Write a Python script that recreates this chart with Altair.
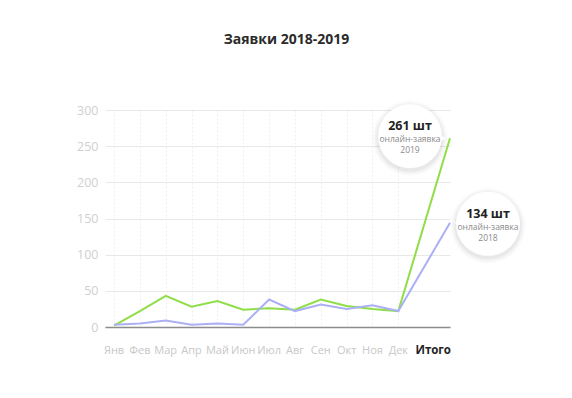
import altair as alt
import pandas as pd

months = ["Янв", "Фев", "Мар", "Апр", "Май", "Июн", "Июл", "Авг", "Сен", "Окт", "Ноя", "Дек", "Итого"]
xpos = [0, 1, 2, 3, 4, 5, 6, 7, 8, 9, 10, 11, 13]
v2019 = [2, 22, 43, 28, 36, 24, 26, 24, 38, 29, 25, 22, 261]
v2018 = [3, 5, 9, 3, 5, 3, 38, 22, 31, 25, 30, 22, 144]
series = ["2019", "2018"]
colors = ["#8fde47", "#abb0f6"]
bubble_big = ["261 шт", "134 шт"]
bubble_small = "онлайн-заявка"
y_ticks = [0, 50, 100, 150, 200, 250, 300]

FONT = "Open Sans"

rows = []
for i, m in enumerate(months):
    rows.append({"month": m, "x": xpos[i], "value": v2019[i], "series": "2019"})
    rows.append({"month": m, "x": xpos[i], "value": v2018[i], "series": "2018"})
df = pd.DataFrame(rows)

lab_df = pd.DataFrame({"month": months, "x": xpos, "value": [0] * len(months),
                       "total": [m == "Итого" for m in months]})

xs = alt.Scale(domain=[-0.35, 13], nice=False, zero=False)
ys = alt.Scale(domain=[0, 300], nice=False)

X = alt.X("x:Q", scale=xs, title=None,
          axis=alt.Axis(values=list(range(12)), labels=False, ticks=False,
                        domain=True, domainColor="#8c8c8c", domainWidth=1.5,
                        grid=True, gridDash=[2, 2], gridColor="#efefef"))
Y = alt.Y("value:Q", scale=ys, title=None,
          axis=alt.Axis(values=y_ticks, ticks=False, domain=False,
                        labelOverlap=False,
                        labelColor="#cfcfcf", labelFontSize=12.5, labelFont=FONT,
                        labelPadding=7, gridColor="#e8e8e8", gridWidth=1))

lines = alt.Chart(df).mark_line(strokeWidth=2).encode(
    x=X, y=Y,
    color=alt.Color("series:N", scale=alt.Scale(domain=series, range=colors), legend=None),
    detail="series:N",
)

months_lab = alt.Chart(lab_df).transform_filter("!datum.total").mark_text(
    dy=24, font=FONT, fontSize=11, color="#c8c8c8", baseline="middle", align="center"
).encode(x=X, y=Y, text="month:N")

total_lab = alt.Chart(lab_df).transform_filter("datum.total").mark_text(
    dy=24, dx=1, font=FONT, fontSize=11.5, fontWeight="bold", color="#222222",
    baseline="middle", align="right"
).encode(x=X, y=Y, text="month:N")

end_df = pd.DataFrame({
    "series": series,
    "x": [13, 13],
    "value": [v2019[-1], v2018[-1]],
    "big": bubble_big,
    "small": [bubble_small, bubble_small],
    "year": series,
})

def bubble(s, dx, dy, shape, pdx):
    base = alt.Chart(end_df).transform_filter(f"datum.series == '{s}'").encode(x=X, y=Y)
    layers = []
    R = 32
    for extra, op in [(6, 0.012), (4.5, 0.018), (3, 0.025), (1.5, 0.035)]:
        r = R + extra
        layers.append(base.mark_circle(size=4 * r * r, color="#000000", opacity=op,
                                       xOffset=dx, yOffset=dy + 2))
    layers.append(base.mark_point(shape=shape, size=110, filled=True, color="#ffffff",
                                  opacity=1, xOffset=pdx, yOffset=0))
    layers.append(base.mark_circle(size=4 * R * R, color="#ffffff", opacity=1,
                                   xOffset=dx, yOffset=dy))
    layers.append(base.mark_text(font=FONT, fontSize=12.5, fontWeight="bold", color="#222222",
                                 dx=dx, dy=dy - 10).encode(text="big:N"))
    layers.append(base.mark_text(font=FONT, fontSize=8.5, color="#8a8a8a",
                                 dx=dx, dy=dy + 3).encode(text="small:N"))
    layers.append(base.mark_text(font=FONT, fontSize=8.5, color="#8a8a8a",
                                 dx=dx, dy=dy + 14).encode(text="year:N"))
    return layers

b1 = bubble("2019", -40, -2, "triangle-right", -9)
b2 = bubble("2018", 38, 1, "triangle-left", 9)

chart = alt.layer(lines, months_lab, total_lab, *b1, *b2).properties(
    width=345, height=217,
    title=alt.TitleParams("Заявки 2018-2019", font=FONT, fontSize=14, fontWeight="bold",
                          color="#2b2b2b", offset=53, dx=9, anchor="middle"),
    autosize=alt.AutoSizeParams(type="none"),
    padding={"left": 97, "top": 102, "right": 110, "bottom": 50},
).configure_view(stroke=None)

chart.save("out.html", embed_options={"renderer": "svg", "actions": False})
